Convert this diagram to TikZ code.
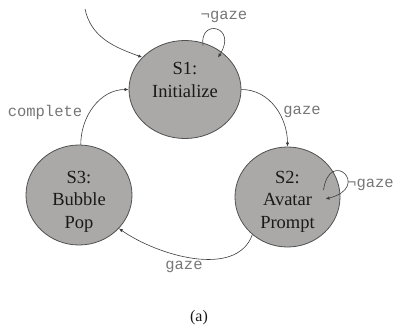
\documentclass[tikz,border=0pt]{standalone}
\usepackage{fontspec}
\setmainfont{Liberation Serif}
\setmonofont{Liberation Mono}
\usetikzlibrary{shapes.geometric,arrows.meta}
\definecolor{statefill}{RGB}{171,169,168}
\definecolor{stateedge}{RGB}{80,80,80}
\definecolor{wire}{RGB}{60,60,60}
\definecolor{condgray}{RGB}{118,118,118}
\definecolor{ink}{RGB}{25,25,25}
\begin{document}
\begin{tikzpicture}[x=1pt,y=1pt,
  state/.style={ellipse, draw=stateedge, fill=statefill, line width=0.8pt, inner sep=0pt},
  statetext/.style={align=center, inner sep=0pt, text=ink, font=\fontsize{18.5}{22.5}\selectfont},
  trans/.style={draw=wire, line width=0.6pt, -{Latex[length=4pt,width=3.4pt]}},
  condlabel/.style={text=condgray, inner sep=0pt, font=\ttfamily\fontsize{15.5}{18}\selectfont}]
\useasboundingbox (0,0) rectangle (393,327);

% states
\node[state, minimum width=112pt, minimum height=98pt] (S1) at (185,237.5) {};
\node[state, minimum width=105pt, minimum height=100pt] (S2) at (287.5,130) {};
\node[state, minimum width=106pt, minimum height=100pt] (S3) at (79,132) {};
\node[statetext] (S1t) at (185,247) {S1:\\Initialize};
\node[statetext] (S2t) at (287.5,125.5) {S2:\\Avatar\\Prompt};
\node[statetext] (S3t) at (79,125.5) {S3:\\Bubble\\Pop};

% entry
\coordinate (entry) at (85,318);
\draw[trans] (entry) to[out=-78,in=160] (S1.143);

% self loops
\draw[trans] ([shift={(18,44)}]S1.center) .. controls (199,309) and (238,301) .. ([shift={(33,32)}]S1.center);
\draw[trans] ([shift={(36,7)}]S2.center) .. controls (330,180) and (372,140) .. ([shift={(38,-2)}]S2.center);

% transitions
\draw[trans] (S1.east) to[out=0,in=90] (S2.north);
\draw[trans] (S2.-133) to[out=-110,in=-35,looseness=0.9] (S3.-40);
\draw[trans] (S3.88) to[out=90,in=180] (S1.west);

% conditions
\node[condlabel] (c1) at (224,310) {¬gaze};
\node[condlabel, anchor=west] (c2) at (347,142) {¬gaze};
\node[condlabel] (c3) at (302,215) {gaze};
\node[condlabel] (c4) at (184,60) {gaze};
\node[condlabel] (c5) at (45,215) {complete};

% caption
\node[text=ink, inner sep=0pt, font=\fontsize{16}{19}\selectfont] (cap) at (199,9) {(a)};
\end{tikzpicture}
\end{document}
